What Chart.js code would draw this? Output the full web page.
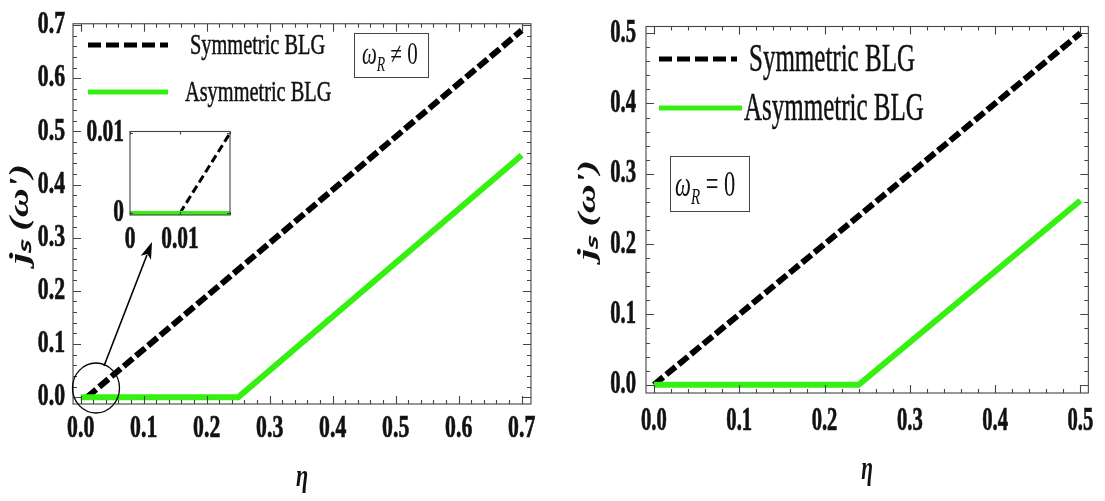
<!DOCTYPE html>
<html><head><meta charset="utf-8">
<script src="https://cdn.jsdelivr.net/npm/chart.js@4.4.1/dist/chart.umd.min.js"></script>
<style>
html,body{margin:0;padding:0;background:#fff;overflow:hidden;}
#wrap{position:relative;width:1105px;height:501px;background:#fff;}
canvas{position:absolute;}
</style></head><body>
<div id="wrap">
<canvas id="left" data-sq="0.69" width="550" height="501" style="left:0;top:0;width:550px;height:501px"></canvas>
<canvas id="right" data-sq="0.625" width="550" height="501" style="left:555px;top:0;width:550px;height:501px"></canvas>
<canvas id="inset" data-sq="0.69" width="160" height="150" style="left:80px;top:110px;width:160px;height:150px"></canvas>
</div>
<script>
// ---------- data ----------
const seriesLabels = ['Symmetric BLG', 'Asymmetric BLG'];
// left panel (omega_R != 0)
const leftSymEta = [0.01, 0.7];
const leftSymJ = [0, 0.69];
const leftAsymEta = [0, 0.25, 0.7];
const leftAsymJ = [0, 0, 0.455];
// right panel (omega_R = 0)
const rightSymEta = [0, 0.5];
const rightSymJ = [0, 0.5];
const rightAsymEta = [0, 0.24, 0.5];
const rightAsymJ = [0, 0, 0.262];
// tick labels
const leftXTicks = ['0.0','0.1','0.2','0.3','0.4','0.5','0.6','0.7'];
const leftYTicks = ['0.0','0.1','0.2','0.3','0.4','0.5','0.6','0.7'];
const rightXTicks = ['0.0','0.1','0.2','0.3','0.4','0.5'];
const rightYTicks = ['0.0','0.1','0.2','0.3','0.4','0.5'];
const insetXTicks = ['0','0.01'];
const insetYTicks = ['0','0.01'];

// ---------- horizontally condensed text (figure is squeezed horizontally) ----------
const P = CanvasRenderingContext2D.prototype;
const sqOf = c => +(c.canvas && c.canvas.dataset && c.canvas.dataset.sq) || 1;
function condensed(orig){
  return function(t, x, y){
    const s = sqOf(this);
    if (s === 1) return orig.call(this, t, x, y);
    const m = this.getTransform();
    const ax = m.a*x + m.c*y + m.e;
    this.save();
    this.setTransform(s, 0, 0, 1, ax - s*ax, 0);
    this.transform(m.a, m.b, m.c, m.d, m.e, m.f);
    orig.call(this, t, x, y);
    this.restore();
  };
}
P.fillText = condensed(P.fillText);
P.strokeText = condensed(P.strokeText);
const _meas = P.measureText;
P.measureText = function(t){
  const m = _meas.call(this, t), s = sqOf(this);
  return {width: m.width*s, actualBoundingBoxAscent: m.actualBoundingBoxAscent, actualBoundingBoxDescent: m.actualBoundingBoxDescent,
    actualBoundingBoxLeft: m.actualBoundingBoxLeft*s, actualBoundingBoxRight: m.actualBoundingBoxRight*s,
    fontBoundingBoxAscent: m.fontBoundingBoxAscent, fontBoundingBoxDescent: m.fontBoundingBoxDescent};
};

const FAM = '"Liberation Serif", "Times New Roman", serif';
Chart.defaults.font.family = FAM;
const GREEN = '#36f012';
const INK = '#111';
const toXY = (xs, ys) => xs.map((x, i) => ({x: x, y: ys[i]}));

// ---------- frame + inward ticks ----------
const framePlugin = {
  id: 'frame',
  afterDatasetsDraw(chart, args, o){
    const {ctx, chartArea: a, scales: {x, y}} = chart;
    ctx.save();
    ctx.strokeStyle = '#444'; ctx.lineWidth = 1.1; ctx.setLineDash([]);
    ctx.strokeRect(a.left, a.top, a.right - a.left, a.bottom - a.top);
    const draw = (scale, horiz) => {
      const st = o.minor, mj = o.major;
      const k0 = Math.ceil(scale.min/st - 1e-9), k1 = Math.floor(scale.max/st + 1e-9);
      for (let k = k0; k <= k1; k++) {
        const v = k*st;
        const isMajor = Math.abs(v/mj - Math.round(v/mj)) < 1e-6;
        const L = isMajor ? o.majorLen : o.minorLen;
        const p = Math.round(scale.getPixelForValue(v)) + 0.5;
        ctx.beginPath();
        if (horiz) {
          ctx.moveTo(p, a.bottom); ctx.lineTo(p, a.bottom - L);
          ctx.moveTo(p, a.top); ctx.lineTo(p, a.top + L);
        } else {
          ctx.moveTo(a.left, p); ctx.lineTo(a.left + L, p);
          ctx.moveTo(a.right, p); ctx.lineTo(a.right - L, p);
        }
        ctx.stroke();
      }
    };
    draw(x, true); draw(y, false);
    ctx.restore();
  }
};

// ---------- legend, label box, circle & arrow ----------
const decoPlugin = {
  id: 'deco',
  afterDraw(chart, args, o){
    const ctx = chart.ctx;
    ctx.save();
    chart.data.datasets.forEach((ds, i) => {
      const it = o.legend[i];
      ctx.beginPath();
      ctx.setLineDash(ds.legendDash || []);
      ctx.strokeStyle = ds.borderColor; ctx.lineWidth = 5;
      ctx.moveTo(it.x0, it.y); ctx.lineTo(it.x1, it.y); ctx.stroke();
      ctx.setLineDash([]);
      ctx.fillStyle = INK; ctx.strokeStyle = INK; ctx.lineWidth = 0.5;
      ctx.font = o.legendSize + 'px ' + FAM; ctx.textBaseline = 'middle'; ctx.textAlign = 'left';
      ctx.fillText(ds.label, it.tx, it.y + 1);
      ctx.strokeText(ds.label, it.tx, it.y + 1);
    });
    const b = o.box;
    ctx.strokeStyle = '#444'; ctx.lineWidth = 1;
    ctx.strokeRect(b.x + 0.5, b.y + 0.5, b.w, b.h);
    ctx.fillStyle = INK; ctx.textBaseline = 'alphabetic'; ctx.textAlign = 'left';
    let tx = b.tx;
    ctx.font = 'italic ' + b.size + 'px ' + FAM; ctx.fillText('ω', tx, b.ty); tx += ctx.measureText('ω').width;
    ctx.font = 'italic ' + b.sub + 'px ' + FAM; ctx.fillText('R', tx, b.ty + b.size*0.22); tx += ctx.measureText('R').width;
    ctx.font = b.size + 'px ' + FAM; ctx.fillText(b.rest, tx, b.ty);
    if (o.circle) {
      const c = o.circle;
      ctx.strokeStyle = '#000'; ctx.lineWidth = 1.3;
      ctx.beginPath(); ctx.ellipse(c.x, c.y, c.rx, c.ry, 0, 0, Math.PI*2); ctx.stroke();
      const A = o.arrow;
      const dx = A.x1 - A.x0, dy = A.y1 - A.y0, len = Math.hypot(dx, dy);
      const ux = dx/len, uy = dy/len, hl = 17, hw = 5.5;
      const bx = A.x1 - ux*hl, by = A.y1 - uy*hl;
      ctx.lineWidth = 1.6;
      ctx.beginPath(); ctx.moveTo(A.x0, A.y0); ctx.lineTo(bx + ux*3, by + uy*3); ctx.stroke();
      ctx.fillStyle = '#000';
      ctx.beginPath(); ctx.moveTo(A.x1, A.y1);
      ctx.lineTo(bx - uy*hw, by + ux*hw); ctx.lineTo(bx + ux*4, by + uy*4); ctx.lineTo(bx + uy*hw, by - ux*hw);
      ctx.closePath(); ctx.fill();
    }
    ctx.restore();
  }
};

function makeChart(id, cfg){
  const tickFont = {family: FAM, size: cfg.tickSize, weight: 'bold', lineHeight: 1};
  return new Chart(document.getElementById(id), {
    type: 'line',
    data: {datasets: cfg.datasets},
    plugins: [framePlugin].concat(cfg.deco ? [decoPlugin] : []),
    options: {
      responsive: false, animation: false, devicePixelRatio: 1,
      layout: {padding: {left: 0, right: cfg.padRight, top: cfg.padTop, bottom: 0}},
      elements: {point: {radius: 0, hoverRadius: 0}, line: {tension: 0, fill: false}},
      plugins: {legend: {display: false}, tooltip: {enabled: false},
        frame: cfg.frame, deco: cfg.deco || {}},
      scales: {
        x: {type: 'linear', min: cfg.xMin, max: cfg.xMax,
          afterFit(s){ s.height = cfg.xH; },
          grid: {display: false, drawTicks: false}, border: {display: false},
          ticks: {stepSize: cfg.xStep, includeBounds: false, autoSkip: false, maxRotation: 0,
            padding: cfg.xPad, font: tickFont, color: INK, textStrokeColor: INK, textStrokeWidth: 0.7,
            callback: (v, i) => cfg.xLabels[i]},
          title: cfg.xTitle ? {display: true, text: 'η', color: INK,
            font: {family: FAM, size: cfg.etaSize, style: 'italic', weight: 'bold', lineHeight: 1},
            padding: {top: 0, bottom: cfg.xTitlePad}} : {display: false}
        },
        y: {type: 'linear', min: cfg.yMin, max: cfg.yMax,
          afterFit(s){ s.width = cfg.yW; },
          grid: {display: false, drawTicks: false}, border: {display: false},
          ticks: {stepSize: cfg.yStep, includeBounds: false, autoSkip: false,
            padding: cfg.yPad, font: tickFont, color: INK, textStrokeColor: INK, textStrokeWidth: 0.7,
            callback: (v, i) => cfg.yLabels[i]},
          title: cfg.yTitle ? {display: true, text: "jₛ (ω')", color: INK,
            font: {family: FAM, size: 40, style: 'italic', weight: 'bold', lineHeight: 1},
            padding: {top: cfg.yTitlePad, bottom: 0}} : {display: false}
        }
      }
    }
  });
}

function datasets(symX, symY, asymX, asymY, sw, aw, dash){
  return [
    {label: seriesLabels[0], data: toXY(symX, symY), borderColor: '#000', borderWidth: sw,
      borderDash: dash, legendDash: [13, 5], order: 1},
    {label: seriesLabels[1], data: toXY(asymX, asymY), borderColor: GREEN, borderWidth: aw, order: 0}
  ];
}

const mainFrame = {minor: 0.02, major: 0.1, majorLen: 8, minorLen: 4};

makeChart('left', {
  datasets: datasets(leftSymEta, leftSymJ, leftAsymEta, leftAsymJ, 6, 6, [12, 4]),
  padRight: 19, padTop: 12, xH: 97, yW: 73, tickSize: 31.5, etaSize: 32,
  xMin: -0.0122, xMax: 0.7148, yMin: -0.0128, yMax: 0.7024, xStep: 0.1, yStep: 0.1,
  xPad: 9, yPad: 8, xLabels: leftXTicks, yLabels: leftYTicks,
  xTitle: true, xTitlePad: 7, yTitle: true, yTitlePad: 1,
  frame: mainFrame,
  deco: {
    legendSize: 29.5,
    legend: [{x0: 88, x1: 168, y: 45, tx: 190}, {x0: 88, x1: 168, y: 92, tx: 185}],
    box: {x: 354, y: 33, w: 74, h: 44, tx: 362, ty: 64, size: 30.5, sub: 20, rest: ' ≠ 0'},
    circle: {x: 96, y: 388, rx: 23.5, ry: 25},
    arrow: {x0: 104, y0: 366, x1: 152, y1: 242}
  }
});

makeChart('right', {
  datasets: datasets(rightSymEta, rightSymJ, rightAsymEta, rightAsymJ, 6, 6, [12, 4]),
  padRight: 11, padTop: 8, xH: 108, yW: 91, tickSize: 33, etaSize: 34,
  xMin: -0.0093, xMax: 0.5093, yMin: -0.0118, yMax: 0.5095, xStep: 0.1, yStep: 0.1,
  xPad: 11.5, yPad: 10, xLabels: rightXTicks, yLabels: rightYTicks,
  xTitle: true, xTitlePad: 14, yTitle: true, yTitlePad: 14,
  frame: mainFrame,
  deco: {
    legendSize: 40,
    legend: [{x0: 104, x1: 182, y: 59, tx: 194}, {x0: 104, x1: 187, y: 108, tx: 189}],
    box: {x: 115, y: 156, w: 79, h: 55, tx: 120, ty: 196, size: 36, sub: 24, rest: ' = 0'}
  }
});

makeChart('inset', {
  datasets: datasets(leftSymEta, leftSymJ, leftAsymEta, leftAsymJ, 3, 4, [8, 4]),
  padRight: 10, padTop: 18, xH: 45, yW: 50, tickSize: 31,
  xMin: 0, xMax: 0.02, yMin: -0.00025, yMax: 0.0102, xStep: 0.01, yStep: 0.01,
  xPad: 9.5, yPad: 6, xLabels: insetXTicks, yLabels: insetYTicks,
  xTitle: false, yTitle: false,
  frame: {minor: 0.01, major: 0.01, majorLen: 3, minorLen: 3}
});
</script>
</body></html>
